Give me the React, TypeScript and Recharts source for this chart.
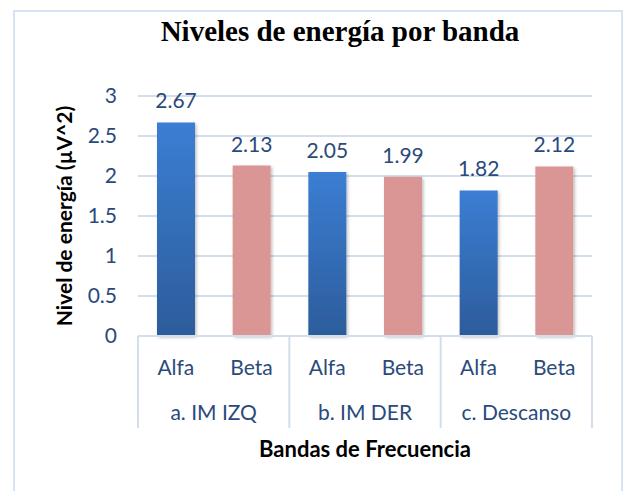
import React from 'react';
import { BarChart, Bar, XAxis, YAxis, CartesianGrid, Cell, LabelList, Label } from 'recharts';

const groups = ['a. IM IZQ', 'b. IM DER', 'c. Descanso'];
const bands = ['Alfa', 'Beta'];
const alfaValues = [2.67, 2.05, 1.82];
const betaValues = [2.13, 1.99, 2.12];
const yTicks = [0, 0.5, 1, 1.5, 2, 2.5, 3];

const data = groups.flatMap((group, i) => [
    { group, band: bands[0], value: alfaValues[i] },
    { group, band: bands[1], value: betaValues[i] },
]);

const W = 626;
const H = 491;
const Y_AXIS_W = 138;
const MARGIN = { top: 96, right: 34, bottom: 75, left: 0 };
const PLOT_W = W - MARGIN.left - MARGIN.right - Y_AXIS_W;
const GROUP_W = PLOT_W / groups.length;

const FONT = 'Lato, "Open Sans", sans-serif';
const TEXT_BLUE = '#2A4A7B';
const LINE = '#D3DEEC';

const BandTick = (props: any) => {
    const { x, y, payload } = props;
    return (
        <text x={x} y={y + 39} textAnchor="middle" fill={TEXT_BLUE} fontFamily={FONT} fontSize={21}>
            {payload.value}
        </text>
    );
};

const GroupTick = (props: any) => {
    const { x, y, payload, index } = props;
    const half = GROUP_W / 2;
    return (
        <g>
            {index === 0 && <line x1={x - half} x2={x - half} y1={y - 40} y2={y + 52} stroke={LINE} strokeWidth={2} />}
            <line x1={x + half} x2={x + half} y1={y - 40} y2={y + 52} stroke={LINE} strokeWidth={2} />
            <text x={x} y={y + 44} textAnchor="middle" fill={TEXT_BLUE} fontFamily={FONT} fontSize={21}>
                {payload.value}
            </text>
        </g>
    );
};

const App = () => {
    return (
        <div style={{ position: 'absolute', left: 0, top: 0, width: W, height: H, background: '#fff', overflow: 'hidden' }}>
            <div
                style={{
                    position: 'absolute',
                    left: 13,
                    top: 10,
                    width: 606,
                    height: 500,
                    border: '2px solid #D6E3F3',
                }}
            />
            <div
                style={{
                    position: 'absolute',
                    left: 140,
                    width: 400,
                    top: 15,
                    textAlign: 'center',
                    fontFamily: '"Liberation Serif", "Times New Roman", serif',
                    fontWeight: 'bold',
                    fontSize: 29,
                    color: '#000',
                }}
            >
                Niveles de energía por banda
            </div>
            <BarChart width={W} height={H} data={data} margin={MARGIN} barSize={38} style={{ position: 'absolute', left: 0, top: 0 }}>
                <defs>
                    <linearGradient id="alfaFill" x1="0" y1="0" x2="0" y2="1">
                        <stop offset="0%" stopColor="#3B7ED3" />
                        <stop offset="100%" stopColor="#2C5C9B" />
                    </linearGradient>
                    <filter id="barShadow" x="-20%" y="-5%" width="140%" height="110%">
                        <feDropShadow dx="1.5" dy="1.5" stdDeviation="1.5" floodColor="#000" floodOpacity="0.25" />
                    </filter>
                </defs>
                <CartesianGrid vertical={false} stroke={LINE} strokeWidth={2} />
                <XAxis
                    dataKey="band"
                    height={40}
                    tickLine={false}
                    tickSize={0}
                    tickMargin={0}
                    axisLine={{ stroke: LINE, strokeWidth: 2 }}
                    tick={<BandTick />}
                    interval={0}
                />
                <XAxis
                    xAxisId="group"
                    dataKey="group"
                    allowDuplicatedCategory={false}
                    height={40}
                    tickLine={false}
                    tickSize={0}
                    tickMargin={0}
                    axisLine={false}
                    tick={<GroupTick />}
                    interval={0}
                >
                    <Label
                        value="Bandas de Frecuencia"
                        position="insideBottom"
                        offset={-41}
                        fill="#000"
                        fontFamily={FONT}
                        fontWeight="bold"
                        fontSize={22}
                    />
                </XAxis>
                <YAxis
                    width={Y_AXIS_W}
                    domain={[0, 3]}
                    ticks={yTicks}
                    tickLine={false}
                    axisLine={false}
                    tickMargin={15}
                    tick={{ fill: TEXT_BLUE, fontFamily: FONT, fontSize: 21 }}
                >
                    <Label
                        value="Nivel de energía (µV^2)"
                        angle={-90}
                        position="insideLeft"
                        offset={65}
                        fill="#000"
                        fontFamily={FONT}
                        fontWeight="bold"
                        fontSize={21}
                        style={{ textAnchor: 'middle' }}
                    />
                </YAxis>
                <Bar dataKey="value" isAnimationActive={false} filter="url(#barShadow)">
                    {data.map((d, i) => (
                        <Cell key={i} fill={d.band === 'Alfa' ? 'url(#alfaFill)' : '#D99694'} />
                    ))}
                    <LabelList dataKey="value" position="top" offset={14} fill={TEXT_BLUE} fontFamily={FONT} fontSize={21} />
                </Bar>
            </BarChart>
        </div>
    );
};

export default App;
